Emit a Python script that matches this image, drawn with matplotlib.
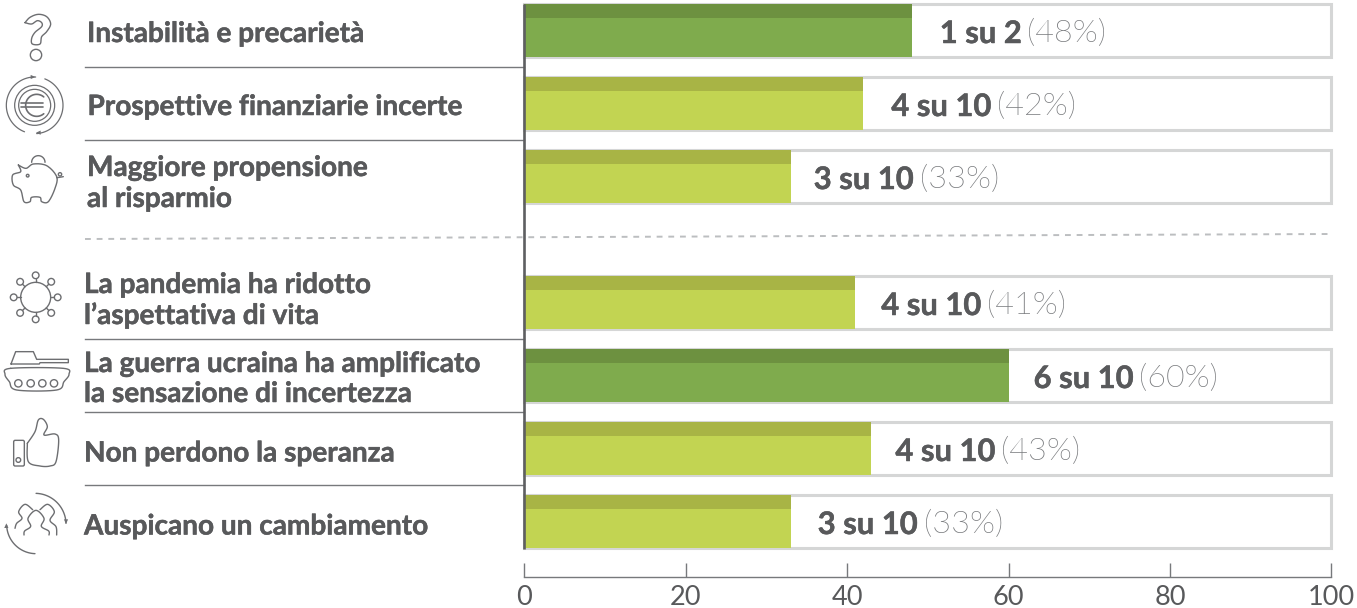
import numpy as np
import matplotlib
matplotlib.use("Agg")
import matplotlib.pyplot as plt
import matplotlib.patheffects as pe
from matplotlib import font_manager as fm
from matplotlib.patches import Circle, Polygon, FancyBboxPatch

# ---- data ----
labels = ["Instabilità e precarietà", "Prospettive finanziarie incerte",
          "Maggiore propensione\nal risparmio", "La pandemia ha ridotto\nl’aspettativa di vita",
          "La guerra ucraina ha amplificato\nla sensazione di incertezza",
          "Non perdono la speranza", "Auspicano un cambiamento"]
values = [48, 42, 33, 41, 60, 43, 33]
ratios = ["1 su 2", "4 su 10", "3 su 10", "4 su 10", "6 su 10", "4 su 10", "3 su 10"]
highlight = [True, False, False, False, True, False, False]
xticks = [0, 20, 40, 60, 80, 100]

# ---- layout (pixels) ----
W, H = 1357, 608
X0, X100, AXIS_Y = 524.4, 1331.4, 577
row_top = [4, 77, 150, 276, 349, 422, 495]
row_h = 53
strip_h = 14
value_gap = [28, 28, 23, 26, 25, 24, 27]
label_x = [87, 87.5, 87, 84, 84, 84, 84]
label_base = [[42], [115], [176, 207], [293, 324], [372, 402], [461.5], [534.5]]
sep_y = [67, 140, 339, 412, 485]

DARK = "#58595b"
MID = "#77797c"
FRAME = "#d5d6d6"
ICON = "#6d6e71"
LW = 1.0
plt.rcParams["font.family"] = ["Lato", "DejaVu Sans"]


def light_font(size):
    for f in fm.fontManager.ttflist:
        if f.name == "Lato" and "light" in f.fname.lower() and "italic" not in f.fname.lower():
            return fm.FontProperties(fname=f.fname, size=size)
    return fm.FontProperties(family="Lato", weight="normal", size=size)


heavy = [pe.withStroke(linewidth=0.35, foreground=DARK)]

fig = plt.figure(figsize=(W / 100, H / 100), dpi=100)
ax = fig.add_axes([X0 / W, 1 - AXIS_Y / H, (X100 - X0) / W, AXIS_Y / H])
ax.set_xlim(0, 100)
ax.set_ylim(AXIS_Y, 0)
px = fig.add_axes([0, 0, 1, 1], zorder=3)
px.set_xlim(0, W)
px.set_ylim(H, 0)
px.axis("off")
px.patch.set_alpha(0)

for i, v in enumerate(values):
    top = row_top[i]
    fill, strip = ("#7fab4d", "#6d9140") if highlight[i] else ("#c2d452", "#a8b445")
    ax.barh(top + row_h / 2, 100, row_h, color="white", edgecolor=FRAME, linewidth=2.2, zorder=1, clip_on=False)
    ax.barh(top + row_h / 2, v, row_h, color=fill, zorder=2)
    ax.barh(top + strip_h / 2, v, strip_h, color=strip, zorder=3)
    base = top + 39
    t = ax.annotate(ratios[i], (v, base), xytext=(value_gap[i] * 0.72, 0), textcoords="offset points",
                    fontsize=22.3, fontweight="bold", color=DARK, va="baseline", ha="left", zorder=5,
                    path_effects=heavy)
    ax.annotate(f"({v}%)", (1, 0), xycoords=t, xytext=(4, 0), textcoords="offset points",
                fontproperties=light_font(23.3), color=MID, va="bottom", ha="left", zorder=5)
    for line, b in zip(labels[i].split("\n"), label_base[i]):
        px.text(label_x[i], b, line, fontsize=20.15, fontweight="bold", color=DARK, va="baseline", ha="left",
                path_effects=heavy)

for s in ["top", "left", "right"]:
    ax.spines[s].set_visible(False)
ax.spines["bottom"].set_color(MID)
ax.spines["bottom"].set_linewidth(1)
ax.patch.set_alpha(0)
ax.set_yticks([])
ax.set_xticks(xticks)
ax.tick_params(axis="x", direction="in", length=10, width=1, color=MID, labelcolor=DARK,
               labelsize=19.5, pad=6)

# separators and axis line
for y in sep_y:
    px.plot([85, 524], [y, y], color=MID, lw=1)
px.plot([85, 1330], [239, 234], color="#bcbec0", lw=1.4, dashes=(3, 3))
px.plot([524, 524], [3.5, 549], color="#5e5f61", lw=1.9, zorder=4, solid_capstyle="butt")


# ---- icons (traced in 3x crop coordinates) ----
def smooth(pts, closed=False, n=10):
    p = np.array(pts, float)
    p = np.vstack([p[-1], p, p[0], p[1]]) if closed else np.vstack([p[0], p, p[-1]])
    out = []
    for i in range(1, len(p) - 2):
        for t in np.linspace(0, 1, n, endpoint=False):
            a, b, c, d = p[i - 1], p[i], p[i + 1], p[i + 2]
            out.append(0.5 * (2 * b + (c - a) * t + (2 * a - 5 * b + 4 * c - d) * t**2 + (3 * b - a - 3 * c + d) * t**3))
    out.append(p[-2])
    return np.array(out)


def z(pts, dy=0):
    return [(x / 3, dy + y / 3) for x, y in pts]


def curve(pts, dy=0, closed=False, lw=LW, straight=False):
    q = np.array(z(pts, dy)) if straight else smooth(z(pts, dy), closed)
    px.plot(q[:, 0], q[:, 1], color=ICON, lw=lw, solid_capstyle="round", solid_joinstyle="round")


def circ(x, y, r, dy=0, lw=LW):
    px.add_patch(Circle((x / 3, dy + y / 3), r / 3, fill=False, ec=ICON, lw=lw))


def arc(x, y, r, a0, a1, dy=0, lw=LW):
    t = np.radians(np.linspace(a0, a1, 60))
    px.plot(x / 3 + r / 3 * np.cos(t), dy + y / 3 + r / 3 * np.sin(t), color=ICON, lw=lw, solid_capstyle="round")


def head(x, y, ang, dy=0, s=14):
    a = np.radians(ang)
    tip = np.array([x, y], float)
    d = np.array([np.cos(a), np.sin(a)])
    n_ = np.array([-d[1], d[0]])
    tri = [tip, tip - d * s + n_ * s * 0.45, tip - d * s - n_ * s * 0.45]
    px.add_patch(Polygon(np.array(z(tri, dy)), closed=True, fc=ICON, ec="none"))


# question mark
curve([(75, 68), (90, 52), (115, 43), (140, 50), (152, 72), (140, 95), (125, 110), (120, 132),
       (97, 132), (95, 115), (105, 97), (125, 80), (125, 68), (112, 62), (95, 72), (75, 68)])
circ(108, 165, 17)
# euro
circ(104, 316, 60, lw=0.9)
circ(104, 316, 48, lw=0.9)
arc(104, 316, 85, 111, 272, lw=0.9)
arc(104, 316, 85, 291, 446, lw=0.9)
head(106, 231, 0)
head(108, 398, 180)
arc(110, 316, 33, 50, 310, lw=1.2)
curve([(63, 310), (128, 310)], straight=True, lw=1.2)
curve([(63, 322), (128, 322)], straight=True, lw=1.2)
# pig
curve([(55, 495), (78, 505), (100, 492), (140, 497), (170, 530), (165, 565), (145, 605), (125, 605),
       (120, 592), (95, 592), (90, 605), (72, 605), (62, 570), (40, 555), (38, 525), (62, 515), (55, 495)])
arc(115, 487, 20, 180, 360)
circ(83, 527, 4)
circ(180, 523, 5)
curve([(170, 533), (178, 532), (190, 530)])
# virus
VY = 250
circ(107, 142, 45, VY)
for k in range(8):
    a = np.radians(k * 45)
    c, s = np.cos(a), np.sin(a)
    curve([(107 + 45 * c, 142 + 45 * s), (107 + 56 * c, 142 + 56 * s)], VY, straight=True)
    circ(107 + 66 * c, 142 + 66 * s, 10, VY)
# tank
TY = 340
curve([(33, 72), (47, 35), (100, 35), (110, 58), (205, 58), (205, 68), (120, 68), (118, 72), (33, 72)], TY, straight=True)
curve([(32, 85), (190, 85), (207, 103), (192, 125), (170, 150), (50, 150), (28, 125), (15, 103)], TY, closed=True)
for wx in [55, 92, 127, 162]:
    circ(wx, 130, 11, TY)
# thumb
px.add_patch(FancyBboxPatch((41 / 3, 250 + 571 / 3), 32 / 3, 77 / 3, boxstyle="round,pad=0,rounding_size=1.5",
                            fill=False, ec=ICON, lw=LW))
circ(55, 630, 7, 250)
curve([(82, 580), (105, 545), (115, 510), (130, 508), (142, 530), (132, 555), (165, 552), (176, 570),
       (168, 635), (150, 648), (120, 648), (85, 635), (82, 580)], 250)
# people
PY = 485
curve([(72, 150), (74, 138), (92, 124), (84, 100), (108, 76), (132, 100), (124, 124), (146, 138), (147, 150)], PY)
curve([(45, 130), (50, 115), (66, 100), (56, 80), (75, 58), (98, 74)], PY)
curve([(170, 150), (168, 125), (150, 106), (163, 80), (143, 58), (120, 74)], PY)
arc(105, 118, 93, 272, 358, PY)
arc(108, 118, 88, 92, 178, PY)
head(198, 117, 90, PY)
head(19, 115, -90, PY)

fig.savefig("out.png", dpi=100)
